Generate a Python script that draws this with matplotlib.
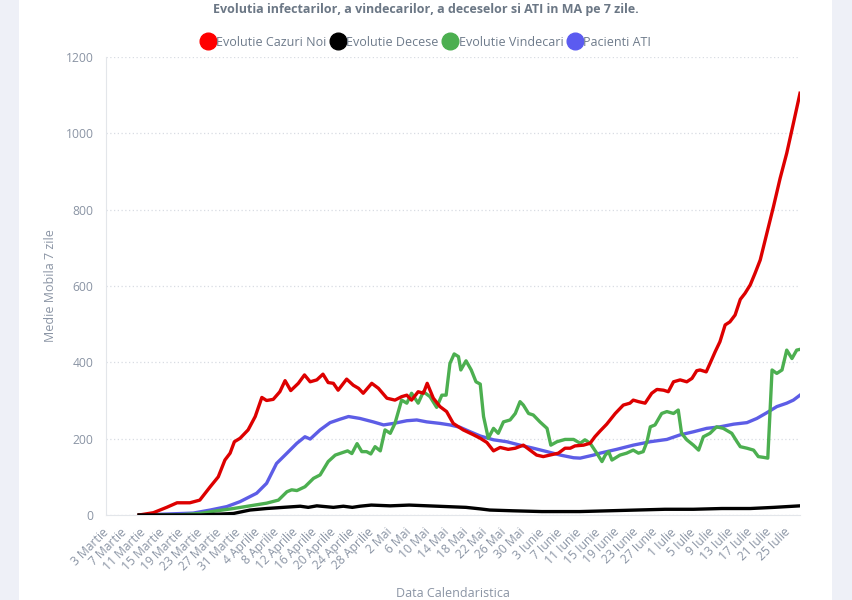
import matplotlib
matplotlib.use("Agg")
import matplotlib.pyplot as plt
from matplotlib.lines import Line2D
from matplotlib.patches import Rectangle

plt.rcParams["font.family"] = ["Open Sans", "DejaVu Sans"]

# day offsets counted from 3 Martie
tick_labels = ["3 Martie", "7 Martie", "11 Martie", "15 Martie", "19 Martie", "23 Martie",
               "27 Martie", "31 Martie", "4 Aprilie", "8 Aprilie", "12 Aprilie", "16 Aprilie",
               "20 Aprilie", "24 Aprilie", "28 Aprilie", "2 Mai", "6 Mai", "10 Mai", "14 Mai",
               "18 Mai", "22 Mai", "26 Mai", "30 Mai", "3 Iunie", "7 Iunie", "11 Iunie",
               "15 Iunie", "19 Iunie", "23 Iunie", "27 Iunie", "1 Iulie", "5 Iulie", "9 Iulie",
               "13 Iulie", "17 Iulie", "21 Iulie", "25 Iulie"]

cazuri_zi = [7, 10, 12.8, 15, 17.7, 19.8, 22, 23.7, 25.1, 26.2, 27.1, 28.3, 30, 31.5, 32.9, 33.9,
             35.3, 36.7, 37.8, 39, 40.6, 41.9, 43.1, 44.5, 45.8, 46.9, 48, 49, 50.8, 52.2, 53.3,
             54.3, 56.1, 57.5, 59.3, 61, 62.4, 63.5, 64.5, 65.9, 67, 67.8, 69.1, 70.5, 71.9, 73.3,
             75.4, 77.6, 79, 80.4, 81.8, 83.2, 84.9, 86.4, 88.1, 89.5, 90.9, 92.3, 93.7, 95.5,
             96.9, 98, 99, 100.8, 102.2, 103.2, 104.3, 105.7, 107.5, 109.2, 110.6, 111.3, 112.4,
             113.8, 115.2, 116.3, 117.7, 118.7, 119.8, 121.2, 122.6, 123.7, 124.7, 125.4, 126.7,
             127.5, 128.6, 129.6, 130.7, 131.7, 132.8, 133.9, 134.9, 136, 137, 138.1, 139.5,
             140.9, 142.3, 143.7, 145.1, 146.5]
cazuri = [0, 6, 20, 32, 32, 39, 74, 100, 144, 162, 192, 201, 223, 258, 308, 300,
          303, 323, 352, 326, 345, 367, 349, 354, 369, 347, 345, 327, 356, 340, 332,
          319, 345, 332, 306, 301, 310, 314, 301, 323, 319, 345, 306, 284, 271, 240,
          223, 210, 201, 190, 168, 177, 172, 175, 183, 170, 157, 153, 157, 162,
          175, 175, 181, 183, 188, 205, 220, 238, 266, 288, 293, 301, 297,
          293, 319, 329, 327, 323, 349, 354, 349, 358, 378, 380, 375,
          397, 428, 454, 498, 506, 524, 565, 581, 603, 633, 668, 738,
          808, 882, 948, 1026, 1105]

decese_zi = [7, 20, 26.9, 30.4, 33.9, 37.4, 41, 42.7, 44.5, 48, 50.1, 52, 53.6, 56, 60, 64, 68,
             72, 76, 79, 81, 86, 92, 100, 106, 112, 118, 124, 130, 136, 141, 146.5]
decese = [0, 0, 4, 13, 17, 20, 23, 20, 24, 20, 23, 20, 23, 26, 24, 26, 24,
          22, 20, 16, 13, 11, 9, 9, 11, 13, 15, 15, 17, 17, 20, 24]

vindecari_zi = [7, 15, 19.8, 23.4, 26.9, 30.4, 33.9, 36.4, 38.2, 39.2, 40.3, 42, 43.8, 45.2,
                46.9, 48.4, 49.8, 51, 51.9, 53, 54, 55, 55.9, 56.8, 57.9, 58.9, 60, 61, 62.4,
                63.5, 64.5, 65.9, 67, 68.4, 69.8, 70.9, 71.8, 72.6, 73.5, 74.4, 74.9, 76, 77.1,
                78.1, 79, 79.7, 80.7, 81.8, 82.8, 83.9, 85.3, 86.4, 87.4, 88.1, 89.2, 90.2,
                91.6, 93.1, 93.9, 95.2, 96.9, 98.7, 100.1, 101.1, 102.2, 103.6, 104.7, 105.4,
                106.1, 106.8, 108.5, 109.9, 111.3, 112.4, 113.4, 114.2, 114.9, 115.9, 117.3,
                118.4, 119.8, 120.8, 121.5, 122.6, 124, 125.1, 126.1, 127.5, 128.9, 130.3,
                132.1, 133.2, 133.9, 135.3, 136.7, 137.7, 138.8, 139.7, 140.6, 141.6, 142.7,
                143.7, 144.8, 145.8, 146.5]
vindecari = [0, 0, 4, 11, 17, 24, 31, 39, 61, 66, 64, 74, 96, 105,
             140, 157, 163, 168, 161, 187, 166, 166, 160, 179, 168, 223, 214, 240, 301,
             293, 319, 293, 323, 310, 282, 314, 314, 397, 422, 415, 380, 404, 380,
             349, 343, 258, 201, 227, 214, 244, 249, 266, 297, 288, 266, 262,
             244, 227, 183, 192, 198, 198, 188, 197, 188, 162, 140, 157,
             166, 144, 157, 162, 170, 162, 166, 192, 231, 236, 266,
             271, 266, 275, 214, 197, 183, 170, 205, 214, 231, 227,
             214, 192, 179, 175, 170, 153, 151, 149, 380, 371, 380,
             432, 410, 432, 434]

ati_zi = [7, 18.4, 22, 25.5, 28.3, 31.8, 33.9, 36, 38.2, 40.3, 42, 43.1, 45.2, 47.3, 49.4,
          51.2, 53.6, 56.4, 58.6, 60.7, 63.5, 65.6, 67.7, 70.5, 72.6, 74.7, 76.9, 79, 81.8,
          84.6, 87.4, 90.2, 93.1, 95.9, 98.7, 100.1, 102.9, 104.3, 105.7, 107.8, 111.3,
          114.9, 118.4, 121.2, 124, 126.8, 129.6, 132.5, 135.3, 137.4, 139.5, 141.6, 143.7,
          145.1, 146.5]
ati = [0, 5, 13, 22, 35, 57, 83, 135, 162, 188, 205, 199, 223, 242, 251,
       258, 253, 244, 236, 240, 247, 249, 244, 240, 236, 230, 218, 207, 197,
       192, 183, 175, 166, 157, 150, 149, 157, 162, 166, 172, 183,
       192, 198, 210, 218, 227, 231, 238, 242, 253, 268, 284, 293,
       301, 314]

text_gray = "#8a94a4"

fig = plt.figure(figsize=(8.52, 6), dpi=100, facecolor="#eef0f7")
fig.patches.append(Rectangle((19 / 852, 0), (832 - 19) / 852, 1, transform=fig.transFigure,
                             facecolor="white", edgecolor="none", zorder=-10))
ax = fig.add_axes([106 / 852, 1 - 515 / 600, (800 - 106) / 852, (515 - 57) / 600])
ax.set_zorder(5)
ax.set_facecolor("white")

lw = 2.4
ax.plot(ati_zi, ati, color="#5d5de6", lw=lw, zorder=3)
ax.plot(vindecari_zi, vindecari, color="#4caf50", lw=lw, zorder=4)
ax.plot(cazuri_zi, cazuri, color="#dd0000", lw=lw, zorder=5)
ax.plot(decese_zi, decese, color="black", lw=lw, zorder=6)

ax.set_xlim(0, 146.5)
ax.set_ylim(0, 1200)
ax.set_yticks(range(0, 1201, 200))
ax.set_xticks([4 * i for i in range(len(tick_labels))])
ax.set_xticklabels(tick_labels, rotation=45, ha="right", va="center", rotation_mode="anchor")
ax.tick_params(axis="x", length=0, pad=11, labelsize=8.7, labelcolor=text_gray)
ax.tick_params(axis="y", length=0, pad=9, labelsize=8.7, labelcolor=text_gray)

ax.grid(axis="y", color="#d8dce3", linestyle=(0, (1, 2)), lw=0.9)
ax.grid(axis="x", visible=False)
for side in ["top", "right"]:
    ax.spines[side].set_visible(False)
ax.spines["left"].set_color("#e3e6ea")
ax.spines["bottom"].set_color("#e3e6ea")

ax.set_ylabel("Medie Mobila 7 zile", color=text_gray, fontsize=9, labelpad=6)
ax.set_xlabel("Data Calendaristica", color=text_gray, fontsize=9, labelpad=10)

fig.text(0.5, 1 - 10 / 600, "Evolutia infectarilor, a vindecarilor, a deceselor si ATI in MA pe 7 zile.",
         ha="center", va="center", fontsize=9, fontweight="bold", color="#6b7785")

handles = [Line2D([], [], marker="o", ls="none", ms=12, color=c)
           for c in ["#ff0000", "#000000", "#4caf50", "#5b5bf0"]]
names = ["Evolutie Cazuri Noi", "Evolutie Decese", "Evolutie Vindecari", "Pacienti ATI"]
leg = fig.legend(handles, names, loc="center", bbox_to_anchor=(0.5, 1 - 42 / 600), ncol=4,
                 frameon=False, handletextpad=0.1, columnspacing=0.4, handlelength=1.1,
                 prop={"size": 9})
for t in leg.get_texts():
    t.set_color("#6e7b8b")

fig.savefig("out.png", dpi=100, facecolor=fig.get_facecolor())
